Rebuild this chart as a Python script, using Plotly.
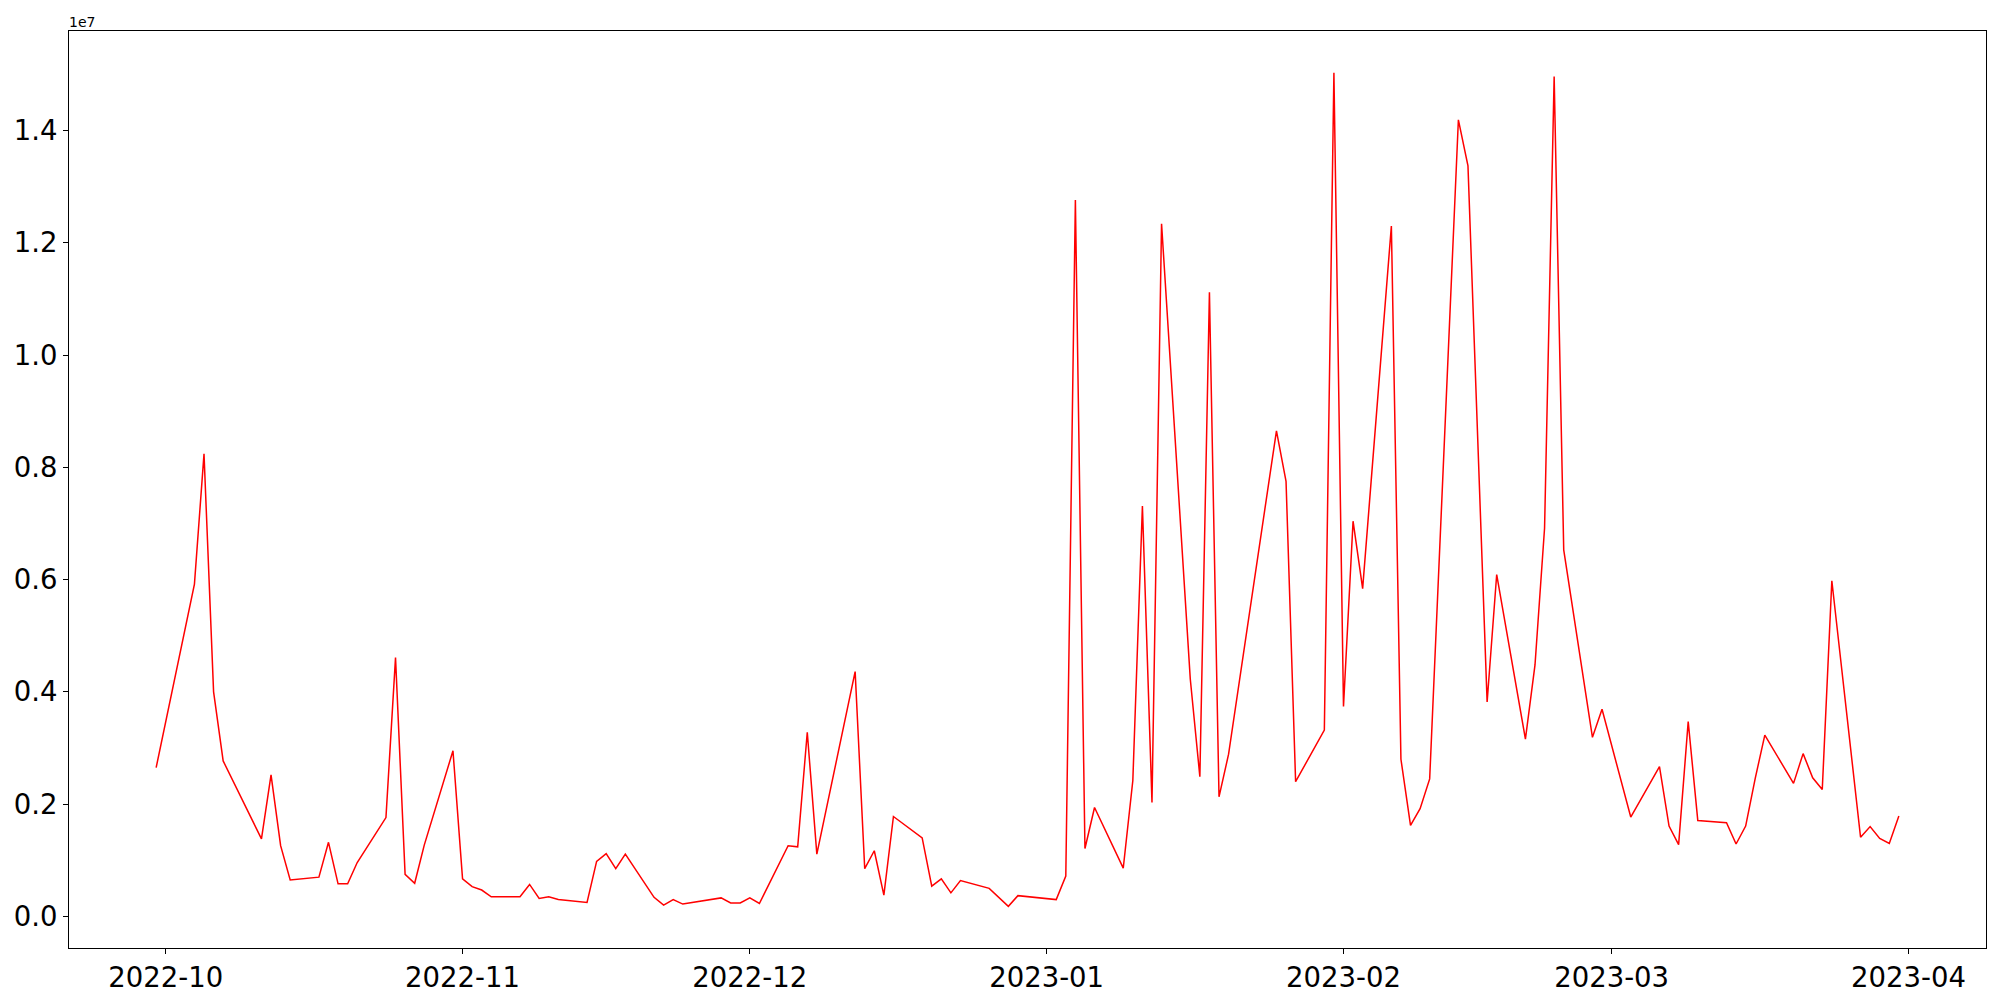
import pandas as pd
import plotly.graph_objects as go

dates = [
    "2022-09-30", "2022-10-04", "2022-10-05", "2022-10-06", "2022-10-07",
    "2022-10-11", "2022-10-12", "2022-10-13", "2022-10-14", "2022-10-17",
    "2022-10-18", "2022-10-19", "2022-10-20", "2022-10-21", "2022-10-24",
    "2022-10-25", "2022-10-26", "2022-10-27", "2022-10-28", "2022-10-31",
    "2022-11-01", "2022-11-02", "2022-11-03", "2022-11-04", "2022-11-07",
    "2022-11-08", "2022-11-09", "2022-11-10", "2022-11-11", "2022-11-14",
    "2022-11-15", "2022-11-16", "2022-11-17", "2022-11-18", "2022-11-21",
    "2022-11-22", "2022-11-23", "2022-11-24", "2022-11-28", "2022-11-29",
    "2022-11-30", "2022-12-01", "2022-12-02", "2022-12-05", "2022-12-06",
    "2022-12-07", "2022-12-08", "2022-12-12", "2022-12-13", "2022-12-14",
    "2022-12-15", "2022-12-16", "2022-12-19", "2022-12-20", "2022-12-21",
    "2022-12-22", "2022-12-23", "2022-12-26", "2022-12-28", "2022-12-29",
    "2023-01-02", "2023-01-03", "2023-01-04", "2023-01-05", "2023-01-06",
    "2023-01-09", "2023-01-10", "2023-01-11", "2023-01-12", "2023-01-13",
    "2023-01-16", "2023-01-17", "2023-01-18", "2023-01-19", "2023-01-20",
    "2023-01-25", "2023-01-26", "2023-01-27", "2023-01-30", "2023-01-31",
    "2023-02-01", "2023-02-02", "2023-02-03", "2023-02-06", "2023-02-07",
    "2023-02-08", "2023-02-09", "2023-02-10", "2023-02-13", "2023-02-14",
    "2023-02-16", "2023-02-17", "2023-02-20", "2023-02-21", "2023-02-22",
    "2023-02-23", "2023-02-24", "2023-02-27", "2023-02-28", "2023-03-03",
    "2023-03-06", "2023-03-07", "2023-03-08", "2023-03-09", "2023-03-10",
    "2023-03-13", "2023-03-14", "2023-03-15", "2023-03-16", "2023-03-17",
    "2023-03-20", "2023-03-21", "2023-03-22", "2023-03-23", "2023-03-24",
    "2023-03-27", "2023-03-28", "2023-03-29", "2023-03-30", "2023-03-31",
]

values = [
    2.65e6, 5.92e6, 8.24e6, 4.00e6, 2.77e6,
    1.38e6, 2.52e6, 1.26e6, 0.65e6, 0.70e6,
    1.32e6, 0.58e6, 0.58e6, 0.96e6, 1.76e6,
    4.61e6, 0.75e6, 0.59e6, 1.27e6, 2.95e6,
    0.67e6, 0.53e6, 0.47e6, 0.35e6, 0.35e6,
    0.57e6, 0.32e6, 0.35e6, 0.30e6, 0.25e6,
    0.98e6, 1.12e6, 0.85e6, 1.11e6, 0.34e6,
    0.20e6, 0.30e6, 0.22e6, 0.33e6, 0.24e6,
    0.24e6, 0.33e6, 0.23e6, 1.26e6, 1.24e6,
    3.28e6, 1.11e6, 4.36e6, 0.85e6, 1.17e6,
    0.38e6, 1.78e6, 1.40e6, 0.54e6, 0.67e6,
    0.42e6, 0.64e6, 0.50e6, 0.18e6, 0.37e6,
    0.30e6, 0.72e6, 12.76e6, 1.21e6, 1.94e6,
    0.86e6, 2.42e6, 7.31e6, 2.03e6, 12.34e6,
    4.23e6, 2.49e6, 11.12e6, 2.13e6, 2.89e6,
    8.65e6, 7.75e6, 2.40e6, 3.32e6, 15.03e6,
    3.74e6, 7.04e6, 5.84e6, 12.30e6, 2.80e6,
    1.62e6, 1.92e6, 2.45e6, 14.19e6, 13.37e6,
    3.82e6, 6.09e6, 3.16e6, 4.48e6, 6.92e6,
    14.96e6, 6.53e6, 3.19e6, 3.69e6, 1.77e6,
    2.67e6, 1.61e6, 1.28e6, 3.47e6, 1.71e6,
    1.67e6, 1.29e6, 1.61e6, 2.46e6, 3.23e6,
    2.37e6, 2.90e6, 2.47e6, 2.26e6, 5.98e6,
    1.41e6, 1.60e6, 1.39e6, 1.30e6, 1.79e6,
]

x_tick_dates = ["2022-10-01", "2022-11-01", "2022-12-01", "2023-01-01",
                "2023-02-01", "2023-03-01", "2023-04-01"]
x_tick_labels = ["2022-10", "2022-11", "2022-12", "2023-01",
                 "2023-02", "2023-03", "2023-04"]
y_tick_values = [0, 2e6, 4e6, 6e6, 8e6, 10e6, 12e6, 14e6]
y_tick_labels = ["0.0", "0.2", "0.4", "0.6", "0.8", "1.0", "1.2", "1.4"]
offset_label = "1e7"

dt = pd.to_datetime(dates)
span = dt.max() - dt.min()
x_lo = dt.min() - 0.05 * span
x_hi = dt.max() + 0.05 * span
v_span = max(values) - min(values)
y_lo = min(values) - 0.05 * v_span
y_hi = max(values) + 0.05 * v_span

fig = go.Figure()
fig.add_trace(go.Scatter(
    x=dt, y=values, mode="lines",
    line=dict(color="#ff0000", width=1.5),
    showlegend=False,
))

axis_common = dict(
    showline=True, mirror=True, linecolor="black", linewidth=1.1,
    ticks="outside", ticklen=5, tickwidth=1.1, tickcolor="black",
    showgrid=False, zeroline=False, automargin=False,
    tickfont=dict(family="DejaVu Sans", size=27.5, color="black"),
)

# page body has an 8px default margin; figure is sized to fit the window
fig.update_layout(
    width=1992, height=992, autosize=False,
    paper_bgcolor="white", plot_bgcolor="white",
    margin=dict(l=61, r=14, t=23, b=52),
    font=dict(family="DejaVu Sans", color="black"),
    xaxis=dict(
        type="date", range=[x_lo, x_hi],
        tickmode="array", tickvals=pd.to_datetime(x_tick_dates),
        ticktext=x_tick_labels, **axis_common,
    ),
    yaxis=dict(
        range=[y_lo, y_hi],
        tickmode="array", tickvals=y_tick_values,
        ticktext=y_tick_labels, **axis_common,
    ),
    annotations=[dict(
        text=offset_label, xref="paper", yref="paper", x=0, y=1,
        xanchor="left", yanchor="bottom", showarrow=False,
        font=dict(family="DejaVu Sans", size=14, color="black"),
        xshift=-2, yshift=-1,
    )],
)

fig.write_html("out.html")
